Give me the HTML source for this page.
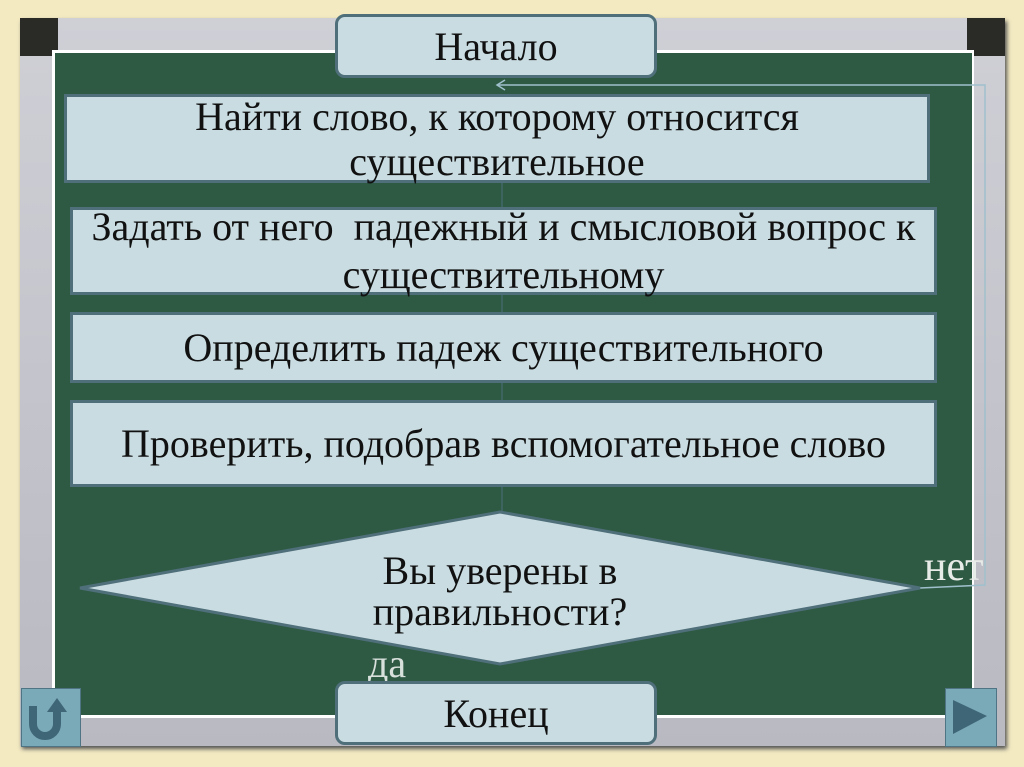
<!DOCTYPE html>
<html><head><meta charset="utf-8"><style>
body{margin:0;width:1024px;height:767px;background:#f3eac2;position:relative;overflow:hidden;font-family:"Liberation Serif","Noto Serif CJK SC",serif}
.a{position:absolute}
.box{position:absolute;background:#c9dce1;border:3px solid #4f6f7a;box-sizing:border-box;display:flex;align-items:center;justify-content:center;text-align:center;font-size:40px;line-height:45px;color:#111;white-space:nowrap}
.r{border-radius:10px}
</style></head><body>
<div class="a" style="left:20px;top:18px;width:985px;height:728px;background:linear-gradient(#cfcfd6,#b9b9c2);box-shadow:2px 3px 4px #555"></div>
<div class="a" style="left:20px;top:18px;width:38px;height:38px;background:#2a2a26"></div>
<div class="a" style="left:967px;top:18px;width:38px;height:38px;background:#2a2a26"></div>
<div class="a" style="left:52px;top:50px;width:922px;height:668px;background:#fff"></div>
<div class="a" style="left:55px;top:53px;width:917px;height:662px;background:#2e5a44"></div>
<svg class="a" style="left:0;top:0" width="1024" height="767">
<polyline points="920,588 985,585 985,85 497,85" fill="none" stroke="#9fc0cc" stroke-width="1.5"/>
<polyline points="505,80 497,85 505,90" fill="none" stroke="#9fc0cc" stroke-width="1.5"/>
<line x1="502" y1="183" x2="502" y2="512" stroke="#4f6f7a" stroke-width="1"/>
<polygon points="80,588 500,512 920,588 500,664" fill="#c9dce1" stroke="#4f6f7a" stroke-width="3"/>
<text x="500" y="584" font-size="40" text-anchor="middle" font-family="Liberation Serif" fill="#111">Вы уверены в</text>
<text x="500" y="625" font-size="40" text-anchor="middle" font-family="Liberation Serif" fill="#111">правильности?</text>
<text x="924" y="580" font-size="42" font-family="Liberation Serif" fill="#e8ece8">нет</text>
<text x="368" y="677" font-size="40" font-family="Liberation Serif" fill="#d8e0dc">да</text>
</svg>
<div class="box r" style="left:335px;top:14px;width:322px;height:64px">Начало</div>
<div class="box" style="left:64px;top:94px;width:866px;height:89px">Найти слово, к которому относится<br>существительное</div>
<div class="box" style="left:70px;top:207px;width:867px;height:88px;line-height:48px">Задать от него &nbsp;падежный и смысловой вопрос к<br>существительному</div>
<div class="box" style="left:70px;top:312px;width:867px;height:71px">Определить падеж существительного</div>
<div class="box" style="left:70px;top:400px;width:867px;height:87px">Проверить, подобрав вспомогательное слово</div>
<div class="box r" style="left:335px;top:681px;width:322px;height:64px">Конец</div>
<div class="a" style="left:21px;top:688px;width:58px;height:57px;background:#7aa9b8;border:1px solid #4f7585"></div>
<svg class="a" style="left:21px;top:688px" width="58" height="57"><path d="M12 18 V36 A12 12 0 0 0 36 36 V22" fill="none" stroke="#3f6676" stroke-width="8"/><polygon points="26,24 36,10 46,24" fill="#3f6676"/></svg>
<div class="a" style="left:945px;top:688px;width:50px;height:57px;background:#7aa9b8;border:1px solid #4f7585"></div>
<svg class="a" style="left:945px;top:688px" width="50" height="57"><polygon points="8,12 42,28 8,46" fill="#3f6676"/></svg>
</body></html>
